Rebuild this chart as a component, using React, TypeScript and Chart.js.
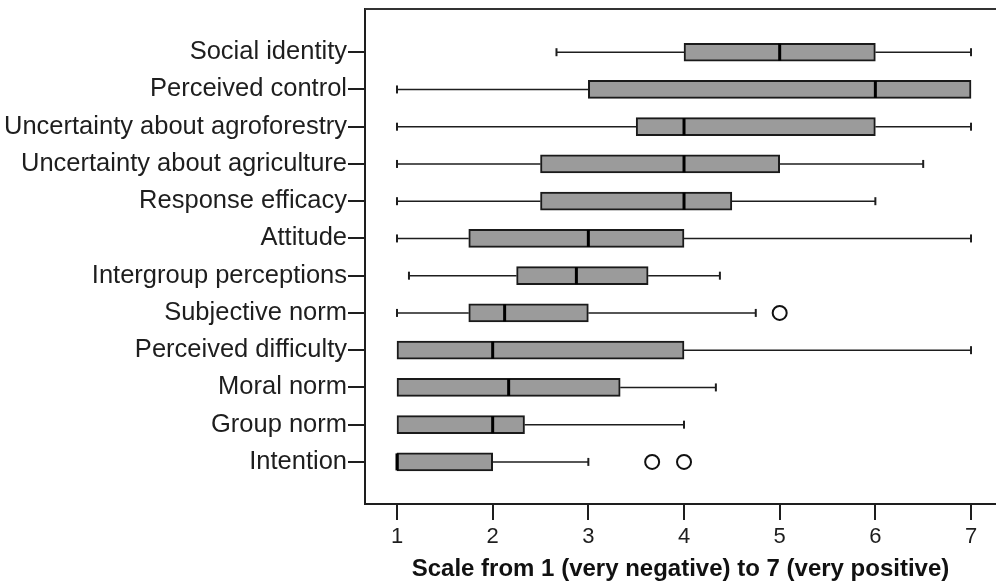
import { useEffect, useRef } from 'react';
import { Chart, registerables } from 'chart.js';

Chart.register(...registerables);

const categories = [
  'Social identity',
  'Perceived control',
  'Uncertainty about agroforestry',
  'Uncertainty about agriculture',
  'Response efficacy',
  'Attitude',
  'Intergroup perceptions',
  'Subjective norm',
  'Perceived difficulty',
  'Moral norm',
  'Group norm',
  'Intention',
];
const whiskerLow = [2.667, 1, 1, 1, 1, 1, 1.125, 1, 1, 1, 1, 1];
const q1 = [4, 3, 3.5, 2.5, 2.5, 1.75, 2.25, 1.75, 1, 1, 1, 1];
const medians = [5, 6, 4, 4, 4, 3, 2.875, 2.125, 2, 2.167, 2, 1];
const q3 = [6, 7, 6, 5, 4.5, 4, 3.625, 3, 4, 3.333, 2.333, 2];
const whiskerHigh = [7, 7, 7, 6.5, 6, 7, 4.375, 4.75, 7, 4.333, 4, 3];
const outlierCats = ['Subjective norm', 'Intention', 'Intention'];
const outlierValues = [5, 3.667, 4];
const xTicks = [1, 2, 3, 4, 5, 6, 7];
const xTitle = 'Scale from 1 (very negative) to 7 (very positive)';

const FONT = "'Liberation Sans', Arial, Helvetica, sans-serif";
const INK = '#1e1e1e';

const boxPlugin = {
  id: 'boxExtras',
  beforeDatasetsDraw(chart: any) {
    const { ctx, scales } = chart;
    const xs = scales.x;
    const ys = scales.y;
    ctx.save();
    ctx.strokeStyle = INK;
    categories.forEach((_, i) => {
      const yp = ys.getPixelForValue(i);
      const segs: [number, number][] = [];
      if (whiskerLow[i] < q1[i]) segs.push([whiskerLow[i], q1[i]]);
      if (whiskerHigh[i] > q3[i]) segs.push([q3[i], whiskerHigh[i]]);
      ctx.lineWidth = 1.5;
      segs.forEach(([a, b]) => {
        ctx.beginPath();
        ctx.moveTo(xs.getPixelForValue(a), yp);
        ctx.lineTo(xs.getPixelForValue(b), yp);
        ctx.stroke();
      });
      ctx.lineWidth = 2;
      const caps: number[] = [];
      if (whiskerLow[i] < q1[i]) caps.push(whiskerLow[i]);
      if (whiskerHigh[i] > q3[i]) caps.push(whiskerHigh[i]);
      caps.forEach((v) => {
        const xp = xs.getPixelForValue(v);
        ctx.beginPath();
        ctx.moveTo(xp, yp - 4);
        ctx.lineTo(xp, yp + 4);
        ctx.stroke();
      });
    });
    ctx.restore();
  },
  afterDatasetsDraw(chart: any) {
    const { ctx, scales, chartArea } = chart;
    const xs = scales.x;
    const ys = scales.y;
    ctx.save();
    ctx.strokeStyle = '#000';
    ctx.lineWidth = 3;
    categories.forEach((_, i) => {
      const yp = ys.getPixelForValue(i);
      const xp = xs.getPixelForValue(medians[i]);
      ctx.beginPath();
      ctx.moveTo(xp, yp - 8.5);
      ctx.lineTo(xp, yp + 8.5);
      ctx.stroke();
    });
    ctx.strokeStyle = '#333';
    ctx.lineWidth = 2;
    ctx.beginPath();
    ctx.moveTo(chartArea.left, chartArea.top);
    ctx.lineTo(chartArea.right, chartArea.top);
    ctx.stroke();
    ctx.restore();
  },
};

export default function App() {
  const ref = useRef<HTMLCanvasElement>(null);
  useEffect(() => {
    const chart = new Chart(ref.current as HTMLCanvasElement, {
      type: 'bar',
      data: {
        datasets: [
          {
            type: 'bar',
            indexAxis: 'y',
            data: categories.map((_, i) => ({ x: [q1[i], q3[i]], y: i })) as any,
            backgroundColor: '#9b9b9b',
            borderColor: '#1a1a1a',
            borderWidth: 2,
            borderSkipped: false,
            barThickness: 18,
          } as any,
          {
            type: 'scatter',
            data: outlierCats.map((c, k) => ({ x: outlierValues[k], y: categories.indexOf(c) })),
            pointRadius: 7,
            pointHoverRadius: 7,
            borderWidth: 2,
            borderColor: '#111',
            backgroundColor: '#fff',
          } as any,
        ],
      },
      options: {
        responsive: false,
        animation: false,
        devicePixelRatio: 1,
        layout: { autoPadding: false, padding: { top: 9, left: 0, right: 0, bottom: 0 } },
        plugins: {
          legend: { display: false },
          tooltip: { enabled: false },
        },
        scales: {
          x: {
            type: 'linear',
            position: 'bottom',
            offset: false,
            min: 0.6655,
            max: 7.261,
            afterBuildTicks: (s: any) => {
              s.ticks = xTicks.map((v) => ({ value: v }));
            },
            afterFit: (s: any) => {
              s.height = 83;
              s.paddingRight = 0;
              s.paddingLeft = 0;
            },
            ticks: {
              color: INK,
              font: { family: FONT, size: 22 },
              padding: 4,
              maxRotation: 0,
              autoSkip: false,
            },
            grid: {
              display: true,
              offset: false,
              drawOnChartArea: false,
              drawTicks: true,
              tickLength: 16,
              color: INK,
              lineWidth: 2,
            },
            border: { display: true, color: INK, width: 2 },
            title: {
              display: true,
              text: xTitle,
              color: '#111',
              font: { family: FONT, size: 24, weight: 'bold' },
              padding: { top: 0, bottom: 3 },
            },
          },
          y: {
            type: 'linear',
            position: 'left',
            offset: false,
            reverse: true,
            min: -1.16,
            max: 12.13,
            afterBuildTicks: (s: any) => {
              s.ticks = categories.map((_, i) => ({ value: i }));
            },
            afterFit: (s: any) => {
              s.width = 365;
              s.paddingTop = 0;
              s.paddingBottom = 0;
            },
            ticks: {
              color: INK,
              font: { family: FONT, size: 25.5 },
              padding: 1,
              autoSkip: false,
              callback: (v: any) => categories[v as number] ?? '',
            },
            grid: {
              display: true,
              offset: false,
              drawOnChartArea: false,
              drawTicks: true,
              tickLength: 17,
              color: INK,
              lineWidth: 2,
            },
            border: { display: true, color: INK, width: 2 },
          },
        },
      },
      plugins: [boxPlugin],
    });
    return () => chart.destroy();
  }, []);
  return (
    <div style={{ position: 'fixed', left: 0, top: 0, width: 996, height: 587, background: '#fff' }}>
      <canvas ref={ref} width={996} height={587} style={{ display: 'block', width: 996, height: 587 }} />
    </div>
  );
}
